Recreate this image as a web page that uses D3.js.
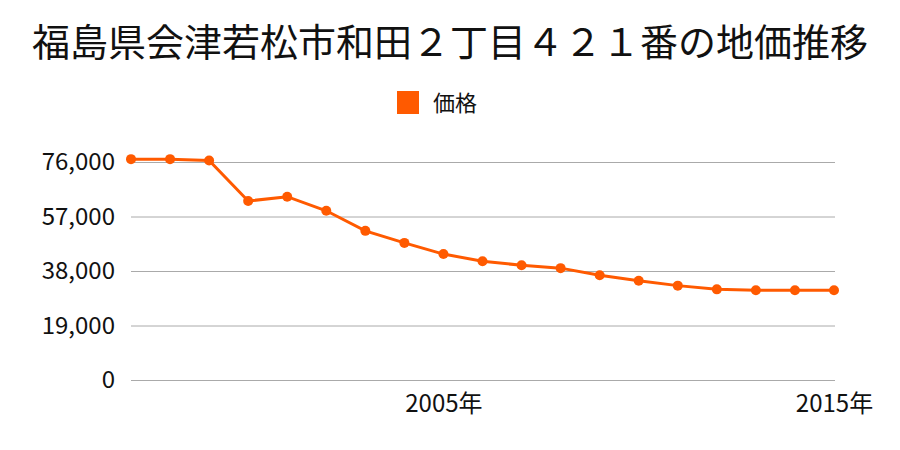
<!DOCTYPE html>
<html><head><meta charset="utf-8">
<script src="https://cdn.jsdelivr.net/npm/d3@7"></script>
<style>body{margin:0;background:#fff}svg{display:block}text{font-family:"Noto Sans CJK JP","Noto Sans",sans-serif}</style>
</head><body>
<svg id="c" width="900" height="450"></svg>
<script>
const title = "福島県会津若松市和田２丁目４２１番の地価推移";
const seriesName = "価格";
const years = [1997,1998,1999,2000,2001,2002,2003,2004,2005,2006,2007,2008,2009,2010,2011,2012,2013,2014,2015];
const prices = [77000,77000,76500,62400,63900,59000,52000,47800,43900,41400,40000,39000,36500,34600,32900,31600,31300,31300,31300];
const yTicks = [0,19000,38000,57000,76000];
const xTicks = [2005,2015];
const color = "#ff5a00";

const svg = d3.select("#c");
const x = d3.scaleLinear().domain([1997,2015]).range([131,834]);
const y = d3.scaleLinear().domain([0,76000]).range([380,162]);
const numFont = "'Liberation Sans','Noto Sans CJK JP',sans-serif";

svg.append("text").attr("x",450).attr("y",56).attr("text-anchor","middle")
  .attr("font-size",38).attr("fill","#111").text(title);

svg.append("rect").attr("x",397).attr("y",91).attr("width",22).attr("height",23).attr("fill",color);
svg.append("text").attr("x",433).attr("y",111).attr("font-size",22).attr("fill","#111").text(seriesName);

const gy = svg.append("g").attr("transform","translate(131,0)")
  .call(d3.axisLeft(y).tickValues(yTicks).tickSize(-704).tickPadding(16).tickFormat(d3.format(",")));
gy.select(".domain").remove();
gy.selectAll("line").attr("stroke","#aaa");
gy.selectAll("text").attr("font-size",24).attr("fill","#111").attr("font-family",numFont);

const gx = svg.append("g").attr("transform","translate(0,380)")
  .call(d3.axisBottom(x).tickValues(xTicks).tickSize(0).tickPadding(15).tickFormat(d=>d+"年"));
gx.select(".domain").remove();
gx.selectAll("text").attr("font-size",24).attr("fill","#111").attr("font-family",numFont);

svg.append("path").datum(prices)
  .attr("fill","none").attr("stroke",color).attr("stroke-width",3)
  .attr("d", d3.line().x((d,i)=>x(years[i])).y(d=>y(d)));
svg.selectAll("circle.p").data(prices).join("circle")
  .attr("cx",(d,i)=>x(years[i])).attr("cy",d=>y(d)).attr("r",5).attr("fill",color);
</script>
</body></html>
